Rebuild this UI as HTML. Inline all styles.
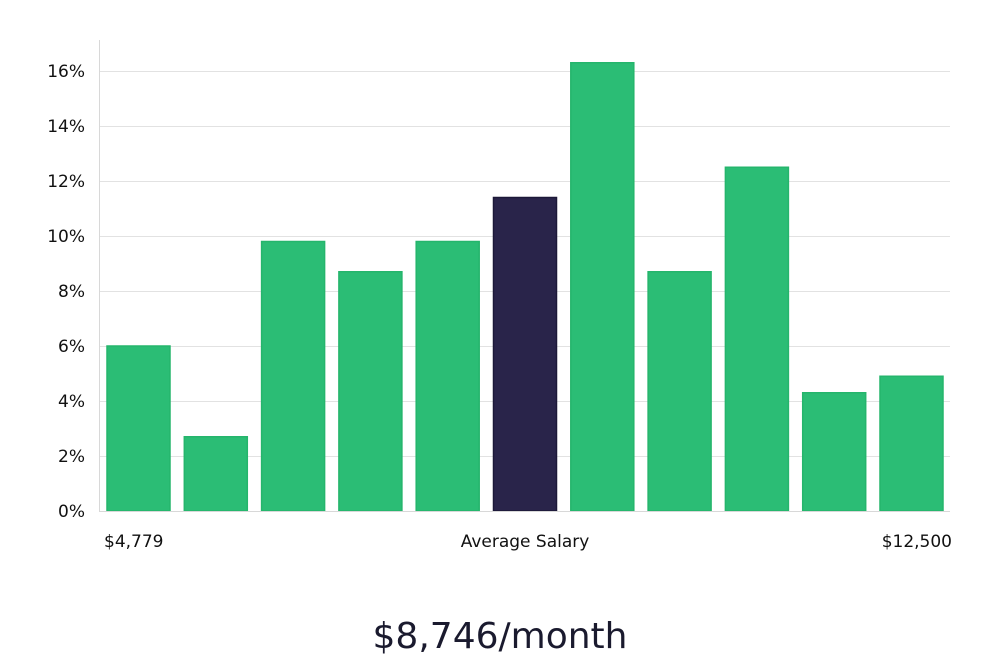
<!DOCTYPE html>
<html><head><meta charset="utf-8"><style>
html,body{margin:0;padding:0;background:#fff;}
svg{display:block;font-family:"DejaVu Sans","Liberation Sans",sans-serif;}
</style></head><body>
<svg id="chart" width="1000" height="660">
<g id="grid"></g>
<g id="yticks"></g>
<line x1="99.5" y1="40" x2="99.5" y2="511" stroke="#d8d8d8" stroke-width="1"/>
<g id="bars"></g>
<line x1="99" y1="511.5" x2="950" y2="511.5" stroke="#d8d8d8" stroke-width="1"/>
<text x="104" y="547" font-size="17" fill="#111">$4,779</text>
<text x="525" y="547" font-size="17" fill="#111" text-anchor="middle">Average Salary</text>
<text x="952" y="547" font-size="17" fill="#111" text-anchor="end">$12,500</text>
<text x="500" y="648" font-size="36" fill="#1a1a2e" text-anchor="middle">$8,746/month</text>
</svg>
<script>
const categories = ["b1","b2","b3","b4","b5","b6","b7","b8","b9","b10","b11"];
const values = [6.0, 2.7, 9.8, 8.7, 9.8, 11.4, 16.3, 8.7, 12.5, 4.3, 4.9];
const highlightIndex = 5;
const yTicks = [0, 2, 4, 6, 8, 10, 12, 14, 16];
const NS = "http://www.w3.org/2000/svg";
const y0 = 511, pxPerUnit = 27.5;
function yScale(v){ return y0 - v * pxPerUnit; }
const xStart = 107, band = 77.3, barW = 63;
function xScale(i){ return xStart + i * band; }
const grid = document.getElementById('grid'), yt = document.getElementById('yticks'), bars = document.getElementById('bars');
yTicks.forEach(t => {
  const y = yScale(t);
  if (t > 0) {
    const l = document.createElementNS(NS, 'line');
    
    
    l.setAttribute('x1', 99); l.setAttribute('x2', 950);
    l.setAttribute('y1', y + 0.5); l.setAttribute('y2', y + 0.5);
    l.setAttribute('stroke', '#e2e2e2');
    grid.appendChild(l);
  }
  const tx = document.createElementNS(NS, 'text');
  
  
  tx.setAttribute('x', 85); tx.setAttribute('y', y + 6);
  tx.setAttribute('text-anchor', 'end'); tx.setAttribute('font-size', '17'); tx.setAttribute('fill', '#111');
  tx.textContent = t + '%';
  yt.appendChild(tx);
});
values.forEach((v, i) => {
  const r = document.createElementNS(NS, 'rect');
  
  
  r.setAttribute('x', xScale(i)); r.setAttribute('width', barW);
  r.setAttribute('y', yScale(v)); r.setAttribute('height', y0 - yScale(v));
  const hi = i === highlightIndex;
  r.setAttribute('fill', hi ? '#29244a' : '#2bbd75');
  r.setAttribute('stroke', hi ? '#1c1838' : '#25b56c');
  r.setAttribute('stroke-width', '1.5');
  bars.appendChild(r);
});
</script>
</body></html>
